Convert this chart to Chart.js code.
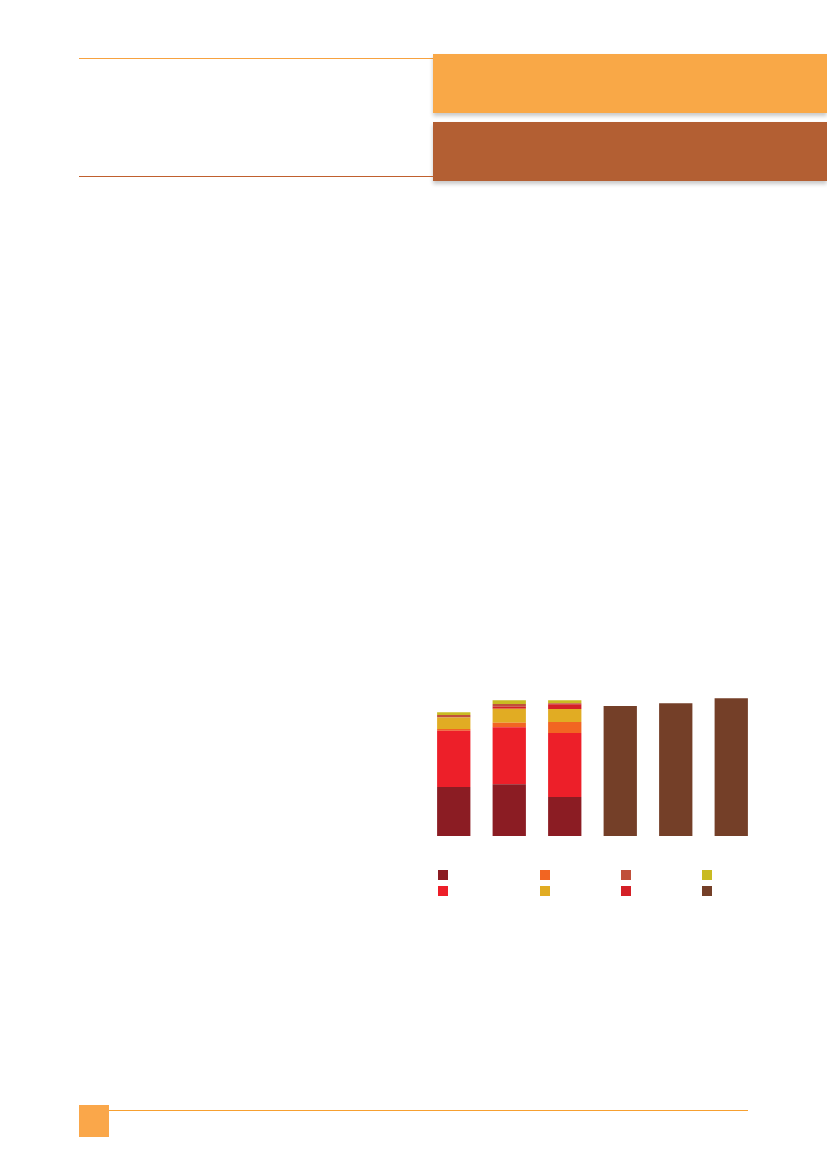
<!DOCTYPE html>
<html>
<head>
<meta charset="utf-8">
<script src="https://cdn.jsdelivr.net/npm/chart.js@4/dist/chart.umd.min.js"></script>
<style>
  html, body { margin: 0; padding: 0; background: #fff; }
  body { width: 827px; height: 1169px; position: relative; overflow: hidden; font-family: "Open Sans", sans-serif; }
  .rule { position: absolute; height: 1px; }
  .band { position: absolute; left: 433px; width: 394px; height: 59px; box-shadow: 0 3px 4px rgba(0,0,0,0.22); }
  #chartBox { position: absolute; left: 416px; top: 676px; width: 353px; height: 240px; }
</style>
</head>
<body>
<div class="rule" style="left:79px; top:58px; width:354px; background:#F7A240;"></div>
<div class="band" style="top:54px; background:#F9A847;"></div>
<div class="band" style="top:122px; background:#B35F33;"></div>
<div class="rule" style="left:79px; top:176px; width:354px; background:#C0602E;"></div>

<div style="position:absolute; left:79px; top:1105px; width:30px; height:32px; background:#FAA74A;"></div>
<div class="rule" style="left:109px; top:1110px; width:639px; background:#F7A030;"></div>

<div id="chartBox"><canvas id="barChart"></canvas></div>

<script>
const categories = ['1', '2', '3', '4', '5', '6'];

// stack order, bottom to top
const seriesNames = ['S1', 'S2', 'S3', 'S4', 'S5', 'S6', 'S7', 'S8'];
const seriesColors = ['#8B1C23', '#ED1F29', '#F26522', '#E1AC23', '#D42027', '#C0503A', '#C9BB22', '#743F28'];
const darkRed  = [49, 51.7, 39, 0, 0, 0];
const red      = [56.3, 57, 64, 0, 0, 0];
const orange   = [1.7, 4.6, 11, 0, 0, 0];
const gold     = [11.4, 14, 13, 0, 0, 0];
const crimson  = [0, 2, 4.7, 0, 0, 0];
const brownRed = [2.6, 2.7, 1, 0, 0, 0];
const olive    = [2.7, 3.7, 3, 0, 0, 0];
const brown    = [0, 0, 0, 130, 132.7, 137.7];
const seriesValues = [darkRed, red, orange, gold, crimson, brownRed, olive, brown];

// legend is read column by column
const legendOrder = [0, 1, 2, 3, 5, 4, 6, 7];

const boxLegend = {
    id: 'boxLegend',
    afterDraw(chart) {
        const ctx = chart.ctx;
        const area = chart.chartArea;
        const colX = [12, 114, 195, 276];
        const rowY = [34, 50];
        legendOrder.forEach(function (idx, i) {
            const col = Math.floor(i / 2);
            const row = i % 2;
            ctx.fillStyle = chart.data.datasets[idx].backgroundColor;
            ctx.fillRect(area.left + colX[col], area.bottom + rowY[row], 10, 10);
        });
    }
};

const ctx = document.getElementById('barChart').getContext('2d');

new Chart(ctx, {
    type: 'bar',
    data: {
        labels: categories,
        datasets: seriesValues.map(function (vals, i) {
            return {
                label: seriesNames[i],
                data: vals,
                backgroundColor: seriesColors[i],
                borderWidth: 0,
                barPercentage: 0.6,
                categoryPercentage: 1.0
            };
        })
    },
    options: {
        responsive: true,
        maintainAspectRatio: false,
        animation: false,
        layout: { padding: { left: 10, right: 10, top: 10, bottom: 80 } },
        plugins: {
            legend: { display: false },
            tooltip: { enabled: false }
        },
        scales: {
            x: { stacked: true, display: false },
            y: { stacked: true, display: false, min: 0, max: 150 }
        }
    },
    plugins: [boxLegend]
});
</script>
</body>
</html>
